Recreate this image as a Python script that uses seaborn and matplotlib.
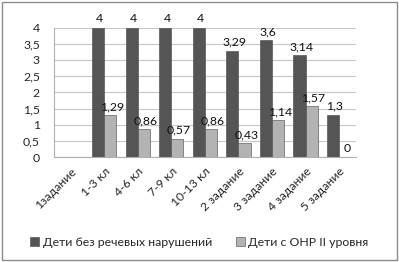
"""Grouped bar chart: children without speech disorders vs. children with OHR II."""

import numpy as np
import pandas as pd

import matplotlib

matplotlib.use("Agg")
import matplotlib.pyplot as plt
import seaborn as sns
from matplotlib.patches import Rectangle


CATEGORIES = ["1задание", "1-3 кл", "4-6 кл", "7-9 кл", "10-13 кл",
              "2 задание", "3 задание", "4 задание", "5 задание"]
SERIES = ["Дети без речевых нарушений", "Дети с ОНР II уровня"]
NORMAL = [np.nan, 4, 4, 4, 4, 3.29, 3.6, 3.14, 1.3]
OHR = [np.nan, 1.29, 0.86, 0.57, 0.86, 0.43, 1.14, 1.57, 0]
Y_TICKS = [0, 0.5, 1, 1.5, 2, 2.5, 3, 3.5, 4]

COLORS = ["#555555", "#b3b3b3"]
FS = 8.8


def fmt(v: float) -> str:
    return f"{v:g}".replace(".", ",")


def main() -> None:
    sns.set_theme(style="white")
    plt.rcParams["font.family"] = ["Lato", "DejaVu Sans"]

    df = pd.DataFrame(
        {
            "category": CATEGORIES * 2,
            "series": [SERIES[0]] * len(CATEGORIES) + [SERIES[1]] * len(CATEGORIES),
            "value": NORMAL + OHR,
        }
    )

    fig = plt.figure(figsize=(3.99, 2.62), dpi=100)
    ax = fig.add_axes([0.135, 0.40, 0.757, 0.495])
    sns.barplot(
        data=df,
        x="category",
        y="value",
        hue="series",
        order=CATEGORIES,
        hue_order=SERIES,
        palette=COLORS,
        width=0.72,
        edgecolor="#444444",
        linewidth=0.4,
        saturation=1,
        ax=ax,
    )

    for container in ax.containers:
        for bar in container:
            h = bar.get_height()
            if not np.isfinite(h):
                continue
            ax.text(
                bar.get_x() + bar.get_width() / 2 + 0.05,
                h + 0.1,
                fmt(h),
                ha="center",
                va="bottom",
                fontsize=FS,
                color="#111111",
                clip_on=False,
            )

    ax.set_ylim(0, 4)
    ax.set_yticks(Y_TICKS)
    ax.set_yticklabels([fmt(t) for t in Y_TICKS], fontsize=FS)
    ax.set_xlim(-0.5, len(CATEGORIES) - 0.5)
    ax.set_xlabel("")
    ax.set_ylabel("")
    ax.yaxis.grid(True, color="#c8c8c8", lw=0.8)
    ax.set_axisbelow(True)
    for side in ["top", "right"]:
        ax.spines[side].set_visible(False)
    for side in ["left", "bottom"]:
        ax.spines[side].set_color("#b0b0b0")
        ax.spines[side].set_linewidth(0.8)
    ax.tick_params(axis="y", length=0, pad=10)
    ax.tick_params(axis="x", length=0, pad=6)
    plt.setp(
        ax.get_xticklabels(),
        rotation=45,
        ha="right",
        rotation_mode="anchor",
        fontsize=FS,
    )

    handles, labels = ax.get_legend_handles_labels()
    ax.legend_.remove()
    fig.legend(
        handles,
        labels,
        loc="center",
        bbox_to_anchor=(0.5, 0.075),
        ncol=2,
        frameon=False,
        fontsize=FS,
        handlelength=0.7,
        handleheight=0.7,
        handletextpad=0.3,
        columnspacing=2.0,
    )

    fig.patches.append(
        Rectangle((0.004, 0.006), 0.992, 0.988, transform=fig.transFigure,
                  fill=False, edgecolor="#8c8c8c", lw=1.0)
    )

    fig.savefig("out.png", dpi=100)
    plt.close(fig)


if __name__ == "__main__":
    main()
